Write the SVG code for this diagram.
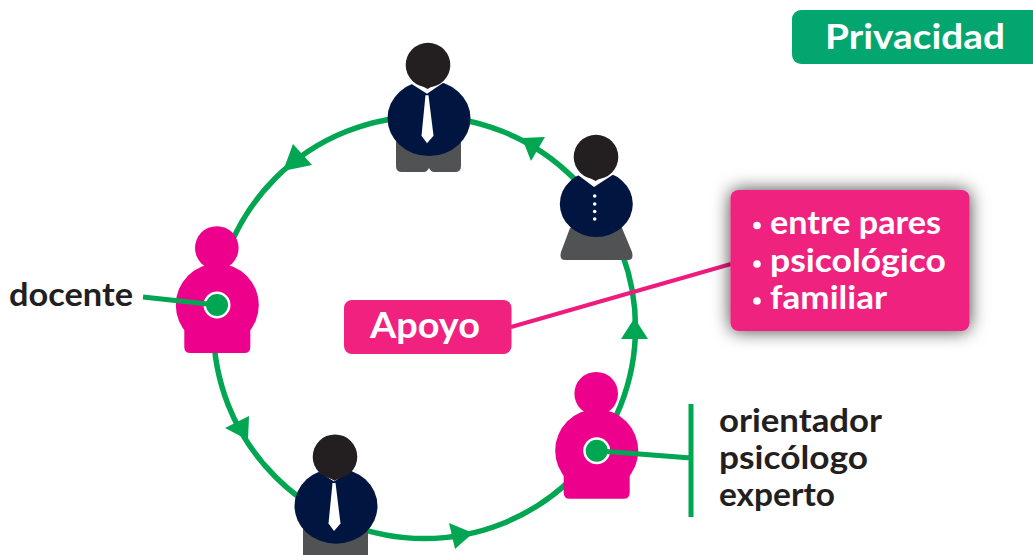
<svg xmlns="http://www.w3.org/2000/svg" xmlns:xlink="http://www.w3.org/1999/xlink" width="1033" height="555" viewBox="0 0 1033 555">
<style>
.t{font-family:"Lato","Liberation Sans",sans-serif;font-weight:700}
.w{fill:#fff}.d{fill:#231f20}
.ln{fill:none;stroke:#00a651;stroke-width:5}
.ring{fill:none;stroke:#00a651;stroke-width:5.500}
.head{fill:#231f20}.navy{fill:#001641}.leg{fill:#515254}.pk{fill:#ec008c}.ar{fill:#00a651}
</style>
<defs>
<filter id="sh" x="-25%" y="-40%" width="150%" height="180%"><feDropShadow dx="0" dy="0" stdDeviation="9" flood-color="#000" flood-opacity=".75"/></filter>
<g id="head">
<circle class="head" cx="0" cy="0" r="22.300"/>
<path class="head" d="M-15 16L-.5 24L14 16Z"/>
</g>
<g id="suit">
<ellipse class="navy" cx="0" cy="0" rx="41.500" ry="37.700"/>
<path class="w" d="M-17-34L-2-24.500L15-36L12-44H-14Z"/>
<path class="w" d="M-3.500-23H-.5L4.500 17.500L-2 25L-7.500 17.500Z"/>
</g>
<g id="pink">
<circle class="pk" cx="-.5" cy="-57" r="21.800"/>
<circle class="pk" cx="0" cy="0" r="41.500"/>
<path class="pk" d="M-33 0H33V42Q33 48 27 48H-27Q-33 48-33 42Z"/>
</g>
</defs>
<g id="connectors">
<circle class="ring" cx="424.500" cy="327.500" r="211"/>
<polygon class="ar" points="522,138 545,137 531,161"/>
<polygon class="ar" points="283,171 293,144 312,165"/>
<polygon class="ar" points="248,440 249,416 225,428"/>
<polygon class="ar" points="473,533 449,523 455,549"/>
<polygon class="ar" points="634.500,318 621,339 648,339"/>
<path fill="none" stroke="#ee1b7e" stroke-width="4" d="M511 327L731 264"/>
</g>
<g id="node-top">
<path class="leg" d="M396 118H461V166Q461 172 455 172H434Q431 172 429 168Q427 172 424 172H402Q396 172 396 166Z"/>
<use href="#suit" x="429" y="118.300"/>
<use href="#head" x="428" y="65"/>
</g>
<g id="node-woman">
<path class="leg" d="M570 228H622L632 252Q634 260 628 260H565Q559 260 561 252Z"/>
<ellipse class="navy" cx="596.300" cy="204" rx="36.500" ry="33"/>
<path class="w" d="M578 175L594 187L614 174L610 166H582Z"/>
<use href="#head" x="596" y="157"/>
<g class="w"><circle cx="594.700" cy="196" r="1.800"/><circle cx="594.700" cy="204" r="1.800"/><circle cx="594.700" cy="211.500" r="1.800"/><circle cx="594.700" cy="219" r="1.800"/></g>
</g>
<g id="node-bottom">
<path class="leg" d="M303 506H368V560H303Z"/>
<use href="#suit" x="336" y="506"/>
<use href="#head" x="335" y="456.700"/>
</g>
<g id="node-docente">
<use href="#pink" x="217.300" y="305"/>
<circle cx="217" cy="305" r="13.500" fill="#fff"/><circle class="ar" cx="217" cy="305" r="11"/>
<path class="ln" d="M143 297L217 305"/>
<text class="t d" x="9" y="306" font-size="32" textLength="124" lengthAdjust="spacingAndGlyphs">docente</text>
</g>
<g id="node-orientador">
<use href="#pink" x="596.700" y="450.700"/>
<circle cx="596.700" cy="450.700" r="13.500" fill="#fff"/><circle class="ar" cx="596.700" cy="450.700" r="11"/>
<path class="ln" d="M597 450.700L691 458M691 404V517"/>
<g class="t d" font-size="32">
<text x="719" y="432" textLength="163" lengthAdjust="spacingAndGlyphs">orientador</text>
<text x="719" y="469" textLength="149" lengthAdjust="spacingAndGlyphs">psicólogo</text>
<text x="719" y="506" textLength="116" lengthAdjust="spacingAndGlyphs">experto</text>
</g>
</g>
<g id="node-apoyo">
<rect x="344" y="300" width="167.500" height="54" rx="8" fill="#f0217f"/>
<text class="t w" x="370" y="338" font-size="36" textLength="110" lengthAdjust="spacingAndGlyphs">Apoyo</text>
</g>
<g id="node-lista">
<rect x="730.500" y="190" width="239" height="141" rx="8" fill="#f0217f" filter="url(#sh)"/>
<g class="t w" font-size="32">
<circle cx="757" cy="225.500" r="3.800"/><circle cx="757" cy="264" r="3.800"/><circle cx="757" cy="301" r="3.800"/>
<text x="770" y="234" textLength="171" lengthAdjust="spacingAndGlyphs">entre pares</text>
<text x="770" y="272" textLength="176" lengthAdjust="spacingAndGlyphs">psicológico</text>
<text x="770" y="309" textLength="117" lengthAdjust="spacingAndGlyphs">familiar</text>
</g>
</g>
<g id="node-privacidad">
<rect x="792" y="10" width="260" height="54" rx="9" fill="#04a66f"/>
<text class="t w" x="825" y="49" font-size="34" textLength="180" lengthAdjust="spacingAndGlyphs">Privacidad</text>
</g>
</svg>
